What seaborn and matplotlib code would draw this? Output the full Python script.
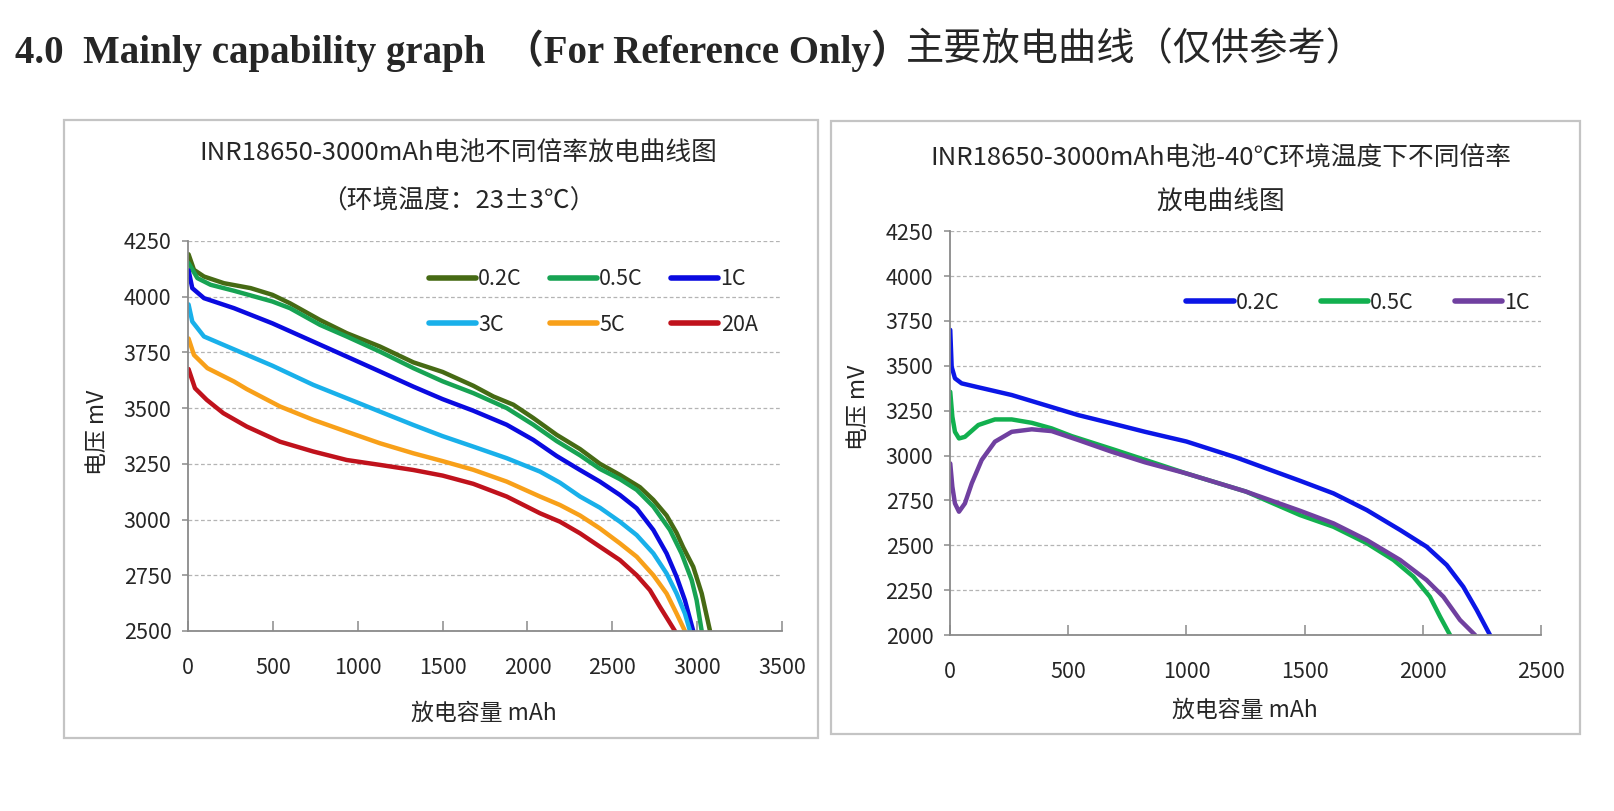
import matplotlib
matplotlib.use('Agg')
import matplotlib.pyplot as plt
import pandas as pd
import seaborn as sns
from matplotlib.patches import Rectangle

# left chart: discharge at 23 deg C, capacity (mAh) / voltage (mV)
cap_02c = [3, 35, 94, 212, 369, 497, 601, 778, 935, 1131, 1328, 1500, 1681, 1799, 1917, 2035,
           2172, 2310, 2427, 2545, 2663, 2742, 2820, 2879, 2918, 2977, 3027, 3076]
mv_02c = [4190, 4120, 4090, 4060, 4038, 4008, 3970, 3895, 3836, 3776, 3705, 3662, 3600, 3552, 3515, 3455,
          3380, 3316, 3250, 3200, 3145, 3088, 3018, 2940, 2875, 2788, 2668, 2500]
cap_05c = [3, 55, 133, 271, 497, 601, 778, 935, 1131, 1328, 1500, 1681, 1878, 2035, 2172, 2310,
           2427, 2545, 2644, 2742, 2840, 2908, 2968, 2997, 3027]
mv_05c = [4150, 4083, 4053, 4026, 3978, 3948, 3873, 3821, 3753, 3679, 3620, 3567, 3500, 3425, 3352, 3288,
          3227, 3181, 3133, 3058, 2953, 2848, 2728, 2638, 2500]
cap_1c = [3, 25, 94, 271, 497, 738, 935, 1131, 1328, 1500, 1681, 1878, 2035, 2172, 2310,
          2427, 2545, 2644, 2742, 2820, 2879, 2928, 2977]
mv_1c = [4118, 4038, 3993, 3948, 3880, 3798, 3731, 3664, 3596, 3540, 3488, 3425, 3357, 3285, 3222,
         3170, 3110, 3050, 2953, 2848, 2743, 2638, 2500]
cap_3c = [3, 25, 94, 232, 497, 738, 935, 1131, 1328, 1500, 1681, 1878, 2074, 2192, 2310,
          2427, 2545, 2644, 2742, 2820, 2879, 2928, 2958]
mv_3c = [3965, 3888, 3821, 3776, 3690, 3604, 3544, 3484, 3424, 3374, 3327, 3275, 3215, 3165, 3103,
         3053, 2990, 2930, 2848, 2758, 2668, 2578, 2500]
cap_5c = [3, 35, 114, 271, 346, 542, 738, 935, 1131, 1328, 1500, 1681, 1878, 2074, 2192, 2310,
          2427, 2545, 2644, 2742, 2820, 2879, 2928]
mv_5c = [3812, 3738, 3679, 3619, 3585, 3507, 3447, 3394, 3342, 3297, 3262, 3223, 3170, 3103, 3065, 3018,
         2960, 2893, 2833, 2750, 2668, 2578, 2500]
cap_20a = [3, 41, 110, 208, 346, 542, 738, 935, 1131, 1328, 1500, 1681, 1878, 2074, 2192, 2310,
           2427, 2545, 2644, 2722, 2781, 2830, 2869]
mv_20a = [3675, 3589, 3537, 3477, 3417, 3349, 3305, 3267, 3245, 3222, 3197, 3160, 3103, 3028, 2990, 2938,
          2878, 2818, 2750, 2683, 2608, 2548, 2500]

# right chart: discharge at -40 deg C
cold_cap_02c = [1, 7, 21, 49, 120, 261, 402, 543, 684, 825, 1000, 1211, 1481, 1622, 1763, 1904,
                2016, 2101, 2171, 2228, 2284]
cold_mv_02c = [3700, 3494, 3430, 3402, 3380, 3337, 3281, 3225, 3179, 3132, 3078, 2989, 2859, 2789, 2696, 2585,
               2492, 2390, 2269, 2139, 2000]
cold_cap_05c = [1, 10, 21, 38, 63, 120, 190, 261, 346, 430, 515, 700, 1000, 1252, 1481, 1622,
                1763, 1876, 1960, 2030, 2073, 2115]
cold_mv_05c = [3355, 3216, 3132, 3095, 3104, 3170, 3201, 3201, 3182, 3151, 3108, 3030, 2900, 2799, 2668, 2603,
               2511, 2418, 2325, 2213, 2102, 2000]
cold_cap_1c = [1, 10, 21, 38, 63, 92, 134, 190, 261, 346, 430, 543, 684, 825, 1000, 1252,
               1481, 1622, 1763, 1904, 2016, 2087, 2157, 2221]
cold_mv_1c = [2956, 2826, 2733, 2687, 2733, 2845, 2975, 3077, 3132, 3146, 3136, 3086, 3021, 2962, 2900, 2799,
              2692, 2622, 2529, 2418, 2306, 2213, 2084, 2000]

rates_left = ['0.2C', '0.5C', '1C', '3C', '5C', '20A']
colors_left = ['#466a14', '#17a353', '#0a0ae0', '#19b0ea', '#f8a019', '#c0121c']
rates_right = ['0.2C', '0.5C', '1C']
colors_right = ['#0b16e6', '#12b04f', '#7040a0']

left_series = [(cap_02c, mv_02c), (cap_05c, mv_05c), (cap_1c, mv_1c),
               (cap_3c, mv_3c), (cap_5c, mv_5c), (cap_20a, mv_20a)]
right_series = [(cold_cap_02c, cold_mv_02c), (cold_cap_05c, cold_mv_05c), (cold_cap_1c, cold_mv_1c)]

sns.set_style('white')
plt.rcParams['font.family'] = ['Noto Sans CJK SC', 'DejaVu Sans']

fig = plt.figure(figsize=(16.14, 8.11), dpi=100)

# page heading
fig.text(0.0093, 0.938, '4.0  Mainly capability graph  （For Reference Only）',
         family=['Liberation Serif', 'Noto Sans CJK SC'], weight='bold', fontsize=28, va='center')
fig.text(0.5613, 0.938, '主要放电曲线（仅供参考）', family=['Noto Sans CJK SC'],
         weight='light', fontsize=27.5, va='center')

# chart frames
for x0, y0, w, h in [(0.0397, 0.090, 0.4672, 0.762), (0.5149, 0.095, 0.4641, 0.756)]:
    fig.patches.append(Rectangle((x0, y0), w, h, transform=fig.transFigure, fill=False,
                                 edgecolor='#c4c4c4', lw=1.6))

ax1 = fig.add_axes([0.1165, 0.222, 0.368, 0.481])
ax2 = fig.add_axes([0.5886, 0.217, 0.3662, 0.498])


def draw(ax, series, names, colors):
    for (cap, mv), name, c in zip(series, names, colors):
        df = pd.DataFrame({'cap': cap, 'mv': mv})
        sns.lineplot(data=df, x='cap', y='mv', color=c, lw=3.2, label=name, sort=False,
                     estimator=None, ax=ax, solid_capstyle='round', solid_joinstyle='round')


def style(ax, xmax, ymin, xstep):
    ax.set_xlim(0, xmax)
    ax.set_ylim(ymin, 4250)
    ax.set_xticks(range(0, xmax + 1, xstep))
    ax.set_yticks(range(ymin, 4251, 250))
    ax.grid(axis='y', ls=(0, (3, 2)), color='#b4b4b4', lw=0.9)
    ax.grid(axis='x', visible=False)
    for s in ['top', 'right']:
        ax.spines[s].set_visible(False)
    for s in ['left', 'bottom']:
        ax.spines[s].set_color('#8a8a8a')
        ax.spines[s].set_linewidth(1.3)
    ax.tick_params(axis='x', direction='in', length=7, width=1.1, color='#8a8a8a',
                   pad=19, labelsize=15.5, bottom=True)
    ax.tick_params(axis='y', direction='out', length=4, width=1.1, color='#8a8a8a',
                   pad=8, labelsize=15.5, left=True)
    ax.set_xlabel('放电容量 mAh', fontsize=16.5)
    ax.set_ylabel('电压 mV', fontsize=16.5)
    ax.xaxis.label.set_va('center')
    ax.yaxis.label.set_va('center')


draw(ax1, left_series, rates_left, colors_left)
style(ax1, 3500, 2500, 500)
ax1.xaxis.set_label_coords(0.498, -0.21)
ax1.yaxis.set_label_coords(-0.152, 0.51)
h, l = ax1.get_legend_handles_labels()
order = [0, 3, 1, 4, 2, 5]
leg1 = ax1.legend([h[i] for i in order], [l[i] for i in order], ncol=3, frameon=False,
                  loc='upper left', bbox_to_anchor=(0.405, 0.93), fontsize=15.5,
                  handlelength=2.2, handletextpad=0.1, columnspacing=1.3, labelspacing=1.1,
                  borderpad=0, borderaxespad=0)
for ln in leg1.get_lines():
    ln.set_linewidth(4)

draw(ax2, right_series, rates_right, colors_right)
style(ax2, 2500, 2000, 500)
ax2.xaxis.set_label_coords(0.499, -0.186)
ax2.yaxis.set_label_coords(-0.155, 0.564)
leg2 = ax2.legend(ncol=3, frameon=False, loc='upper left', bbox_to_anchor=(0.40, 0.85),
                  fontsize=15.5, handlelength=2.2, handletextpad=0.1, columnspacing=1.9,
                  borderpad=0, borderaxespad=0)
for ln in leg2.get_lines():
    ln.set_linewidth(4)

fig.text(0.2838, 0.810, 'INR18650-3000mAh电池不同倍率放电曲线图', ha='center', va='center', fontsize=18.5)
fig.text(0.2838, 0.752, '（环境温度：23±3℃）', ha='center', va='center', fontsize=18.5)
fig.text(0.7565, 0.805, 'INR18650-3000mAh电池-40℃环境温度下不同倍率', ha='center', va='center', fontsize=18.5)
fig.text(0.7565, 0.750, '放电曲线图', ha='center', va='center', fontsize=18.5)

fig.savefig('out.png', dpi=100)
